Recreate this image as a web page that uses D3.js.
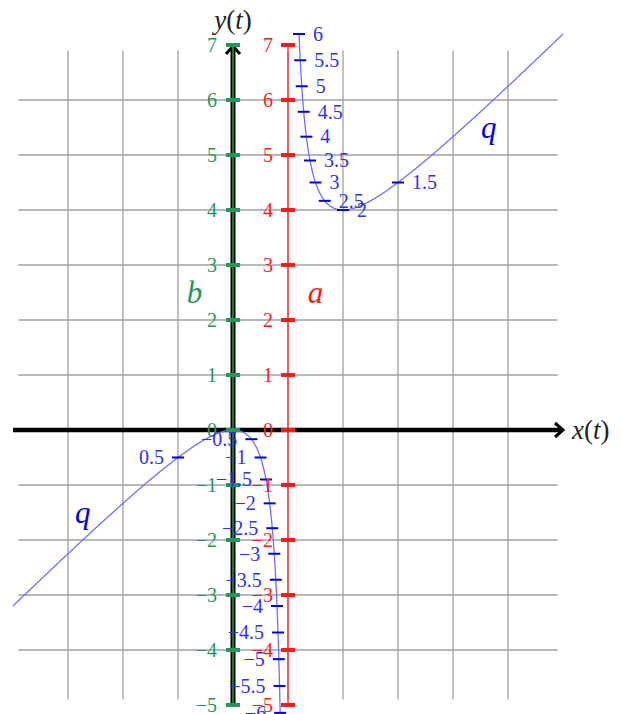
<!DOCTYPE html>
<html>
<head>
<meta charset="utf-8">
<script src="https://cdn.jsdelivr.net/npm/d3@7/dist/d3.min.js"></script>
<style>
  html, body { margin: 0; padding: 0; background: #fff; }
  svg { display: block; }
  text { font-family: "Liberation Serif", "DejaVu Serif", serif; }
</style>
</head>
<body>
<svg id="chart" width="622" height="714"></svg>
<script>
// Plane extents (in plot units)
const xDomain = [-4, 6];
const yDomain = [-5, 7];
const gridX = [-3, -2, -1, 0, 1, 2, 3, 4, 5];
const gridY = [-4, -3, -2, -1, 0, 1, 2, 3, 4, 5, 6];
const gridExtentX = [-3.9, 5.9];
const gridExtentY = [-4.9, 6.9];

// Scale ticks of the two vertical number lines b (x = 0) and a (x = 1)
const axisTickValues = [-5, -4, -3, -2, -1, 0, 1, 2, 3, 4, 5, 6, 7];
const axisBPosition = 0;
const axisAPosition = 1;

// Parameter values marked on the curve q
const tMarksUpper = [1.5, 2, 2.5, 3, 3.5, 4, 4.5, 5, 5.5, 6];
const tMarksLower = [0.5, -0.5, -1, -1.5, -2, -2.5, -3, -3.5, -4, -4.5, -5, -5.5, -6];

// Parameter ranges of the two drawn branches of q
const branchUpper = [1.2, 6];
const branchLower = [-6, 0.8];

// Parametric curve q: x(t) = t/(t-1), y(t) = t^2/(t-1), with a pole at t = 1
const qx = t => t / (t - 1);
const qy = t => t * t / (t - 1);

const svg = d3.select("#chart");
const x = d3.scaleLinear().domain(xDomain).range([13, 563]);
const y = d3.scaleLinear().domain(yDomain).range([705, 45]);

const GREEN = "#22985a";
const RED = "#ff1a1a";
const BLUE_LINE = "#6f6fff";
const BLUE_MARK = "#0000e6";
const BLUE_TEXT = "#3030f2";
const LABEL_SIZE = 20;

// Grid
const grid = svg.append("g").attr("stroke", "#a0a0a0").attr("stroke-width", 1.3);
grid.selectAll("line.v").data(gridX).join("line").attr("class", "v")
  .attr("x1", d => x(d)).attr("x2", d => x(d))
  .attr("y1", y(gridExtentY[0])).attr("y2", y(gridExtentY[1]));
grid.selectAll("line.h").data(gridY).join("line").attr("class", "h")
  .attr("y1", d => y(d)).attr("y2", d => y(d))
  .attr("x1", x(gridExtentX[0])).attr("x2", x(gridExtentX[1]));

// Main axes with open arrowheads
const axes = svg.append("g").attr("stroke", "#000").attr("fill", "none");
axes.append("line")
  .attr("x1", x(xDomain[0])).attr("x2", x(xDomain[1]) - 2)
  .attr("y1", y(0)).attr("y2", y(0)).attr("stroke-width", 4.5);
axes.append("line")
  .attr("x1", x(0)).attr("x2", x(0))
  .attr("y1", y(yDomain[0])).attr("y2", y(yDomain[1]) + 2).attr("stroke-width", 5);
axes.append("path")
  .attr("d", `M${x(xDomain[1]) - 8},${y(0) - 7} L${x(xDomain[1])},${y(0)} L${x(xDomain[1]) - 8},${y(0) + 7}`)
  .attr("stroke-width", 3).attr("stroke-linejoin", "miter");
axes.append("path")
  .attr("d", `M${x(0) - 7},${y(yDomain[1]) + 9} L${x(0)},${y(yDomain[1]) + 1} L${x(0) + 7},${y(yDomain[1]) + 9}`)
  .attr("stroke-width", 3).attr("stroke-linejoin", "miter");

// Number line b along the y-axis
svg.append("line")
  .attr("x1", x(axisBPosition)).attr("x2", x(axisBPosition))
  .attr("y1", y(yDomain[0])).attr("y2", y(yDomain[1]))
  .attr("stroke", "#0f7a3c").attr("stroke-width", 2);

// Number line a at x = 1
svg.append("line")
  .attr("x1", x(axisAPosition)).attr("x2", x(axisAPosition))
  .attr("y1", y(yDomain[0])).attr("y2", y(yDomain[1]))
  .attr("stroke", RED).attr("stroke-width", 1.2);

// Curve q, two branches
const line = d3.line().x(t => x(qx(t))).y(t => y(qy(t)));
[branchLower, branchUpper].forEach(([t0, t1]) => {
  const ts = d3.range(t0, t1, 0.002).concat([t1]);
  svg.append("path").attr("d", line(ts))
    .attr("fill", "none").attr("stroke", BLUE_LINE).attr("stroke-width", 1.3);
});

// Parameter marks on q
const tMarks = tMarksLower.concat(tMarksUpper);
svg.append("g").selectAll("line").data(tMarks).join("line")
  .attr("x1", t => x(qx(t)) - 6).attr("x2", t => x(qx(t)) + 6)
  .attr("y1", t => y(qy(t))).attr("y2", t => y(qy(t)))
  .attr("stroke", BLUE_MARK).attr("stroke-width", 2);

// Tick marks of a and b
svg.append("g").selectAll("rect").data(axisTickValues).join("rect")
  .attr("x", x(axisAPosition) - 7).attr("y", d => y(d) - 2)
  .attr("width", 14).attr("height", 4).attr("fill", RED);
svg.append("g").selectAll("rect").data(axisTickValues).join("rect")
  .attr("x", x(axisBPosition) - 7).attr("y", d => y(d) - 2)
  .attr("width", 14).attr("height", 4).attr("fill", GREEN);

const fmt = v => (v < 0 ? "\u2212" : "") + Math.abs(v);

// Labels of a and b
svg.append("g").selectAll("text").data(axisTickValues).join("text")
  .attr("x", x(axisBPosition) - 16).attr("y", d => y(d)).attr("dy", "0.34em")
  .attr("text-anchor", "end").attr("font-size", LABEL_SIZE).attr("fill", GREEN)
  .text(fmt);
svg.append("g").selectAll("text").data(axisTickValues).join("text")
  .attr("x", x(axisAPosition) - 15).attr("y", d => y(d)).attr("dy", "0.34em")
  .attr("text-anchor", "end").attr("font-size", LABEL_SIZE).attr("fill", RED)
  .text(fmt);

// Labels of the parameter marks: left of the mark below the pole, right above it
svg.append("g").selectAll("text").data(tMarks).join("text")
  .attr("x", t => x(qx(t)) + (t < 1 ? -14 : 14))
  .attr("y", t => y(qy(t))).attr("dy", "0.34em")
  .attr("text-anchor", t => (t < 1 ? "end" : "start"))
  .attr("font-size", LABEL_SIZE).attr("fill", BLUE_TEXT)
  .text(fmt);

// Names
const italic = (sel) => sel.attr("font-style", "italic");
italic(svg.append("text").attr("x", x(-0.7)).attr("y", y(2.5)).attr("dy", "0.35em")
  .attr("text-anchor", "middle").attr("font-size", 31).attr("fill", GREEN).text("b"));
italic(svg.append("text").attr("x", x(1.5)).attr("y", y(2.5)).attr("dy", "0.35em")
  .attr("text-anchor", "middle").attr("font-size", 31).attr("fill", RED).text("a"));
italic(svg.append("text").attr("x", x(4.65)).attr("y", y(5.5)).attr("dy", "0.35em")
  .attr("text-anchor", "middle").attr("font-size", 31).attr("fill", BLUE_MARK).text("q"));
italic(svg.append("text").attr("x", x(-2.73)).attr("y", y(-1.5)).attr("dy", "0.35em")
  .attr("text-anchor", "middle").attr("font-size", 31).attr("fill", BLUE_MARK).text("q"));

// Axis titles x(t), y(t)
function axisTitle(px, py, v, anchor) {
  const t = svg.append("text").attr("x", px).attr("y", py)
    .attr("text-anchor", anchor).attr("font-size", 27).attr("fill", "#222");
  t.append("tspan").attr("font-style", "italic").text(v);
  t.append("tspan").text("(");
  t.append("tspan").attr("font-style", "italic").text("t");
  t.append("tspan").text(")");
}
axisTitle(x(6) + 9, y(0) + 9, "x", "start");
axisTitle(x(0), 29, "y", "middle");
</script>
</body>
</html>
